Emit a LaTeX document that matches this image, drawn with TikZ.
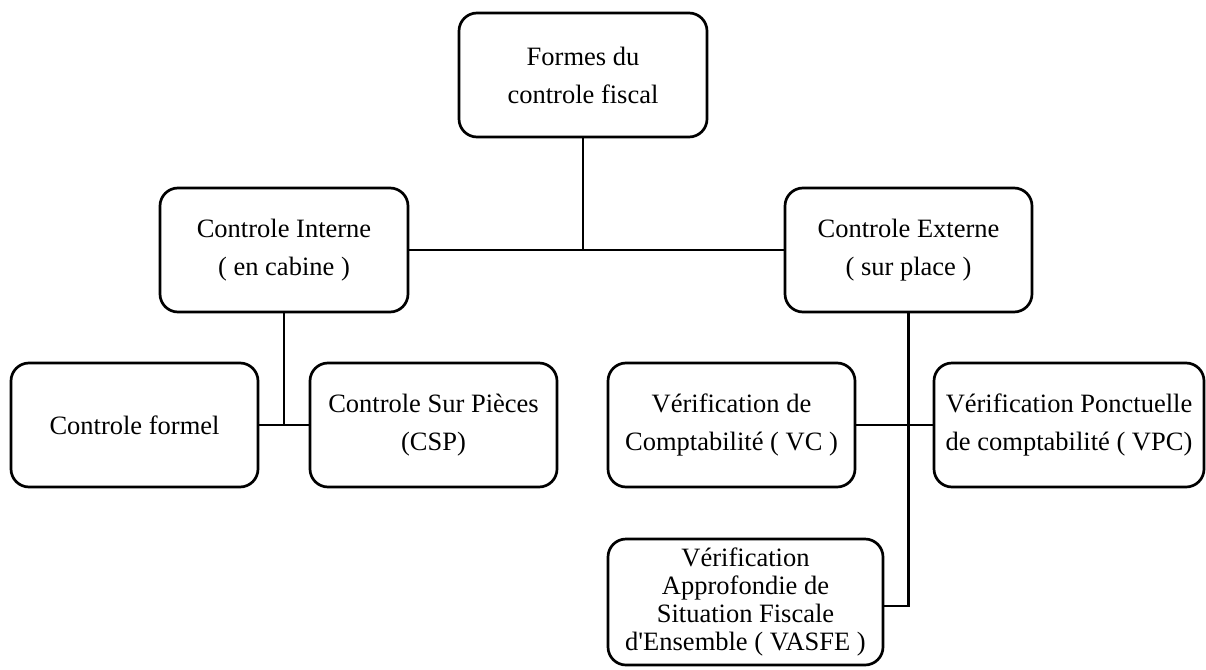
\documentclass[tikz,border=0pt]{standalone}
\usepackage{fontspec}
\setmainfont{Liberation Serif}
\newfontfamily\boxfont{Liberation Serif}
\usetikzlibrary{positioning}

\tikzset{
  formbox/.style={draw,line width=2.7pt,rounded corners=18pt,
    minimum width=247pt,minimum height=124pt,inner sep=0pt,align=center,
    font=\boxfont\fontsize{26.5}{38}\selectfont},
  link/.style={line width=2.7pt}
}

\begin{document}
\begin{tikzpicture}[x=1pt,y=-1pt]
  \useasboundingbox (0,0) rectangle (1206,669);
  % niveau 1
  \node[formbox,minimum width=248pt] (formes) at (583,75) {Formes du\\controle fiscal};
  % niveau 2
  \node[formbox,minimum width=248pt] (interne) at (284,250) {Controle Interne\\( en cabine )};
  \node[formbox] (externe) at (908.5,250) {Controle Externe\\( sur place )};
  % niveau 3
  \node[formbox] (formel) at (134.5,425) {Controle formel};
  \node[formbox] (csp) at (433.5,425) {Controle Sur Pièces\\(CSP)};
  \node[formbox] (vc) at (731.5,425) {Vérification de\\Comptabilité ( VC )};
  \node[formbox,minimum width=270pt] (vpc) at (1069,425) {Vérification Ponctuelle\\de comptabilité ( VPC)};
  \node[formbox,minimum width=275pt,minimum height=126pt,
    font=\boxfont\fontsize{26.5}{28}\selectfont] (vasfe) at (745.5,602)
    {Vérification\\Approfondie de\\Situation Fiscale\\d'Ensemble ( VASFE )};

  % liaisons
  \draw[link] (interne.east) -- (externe.west);
  \draw[link] (formes.south) -- (formes.south |- interne.east);
  \draw[link] (interne.south) -- (interne.south |- formel.east);
  \draw[link] (formel.east) -- (csp.west);
  \draw[link] (vc.east) -- (vpc.west);
  \draw[link] (externe.south) -- ([yshift=-4pt]externe.south |- vasfe.east)
    -- ([yshift=-4pt]vasfe.east);
\end{tikzpicture}
\end{document}
